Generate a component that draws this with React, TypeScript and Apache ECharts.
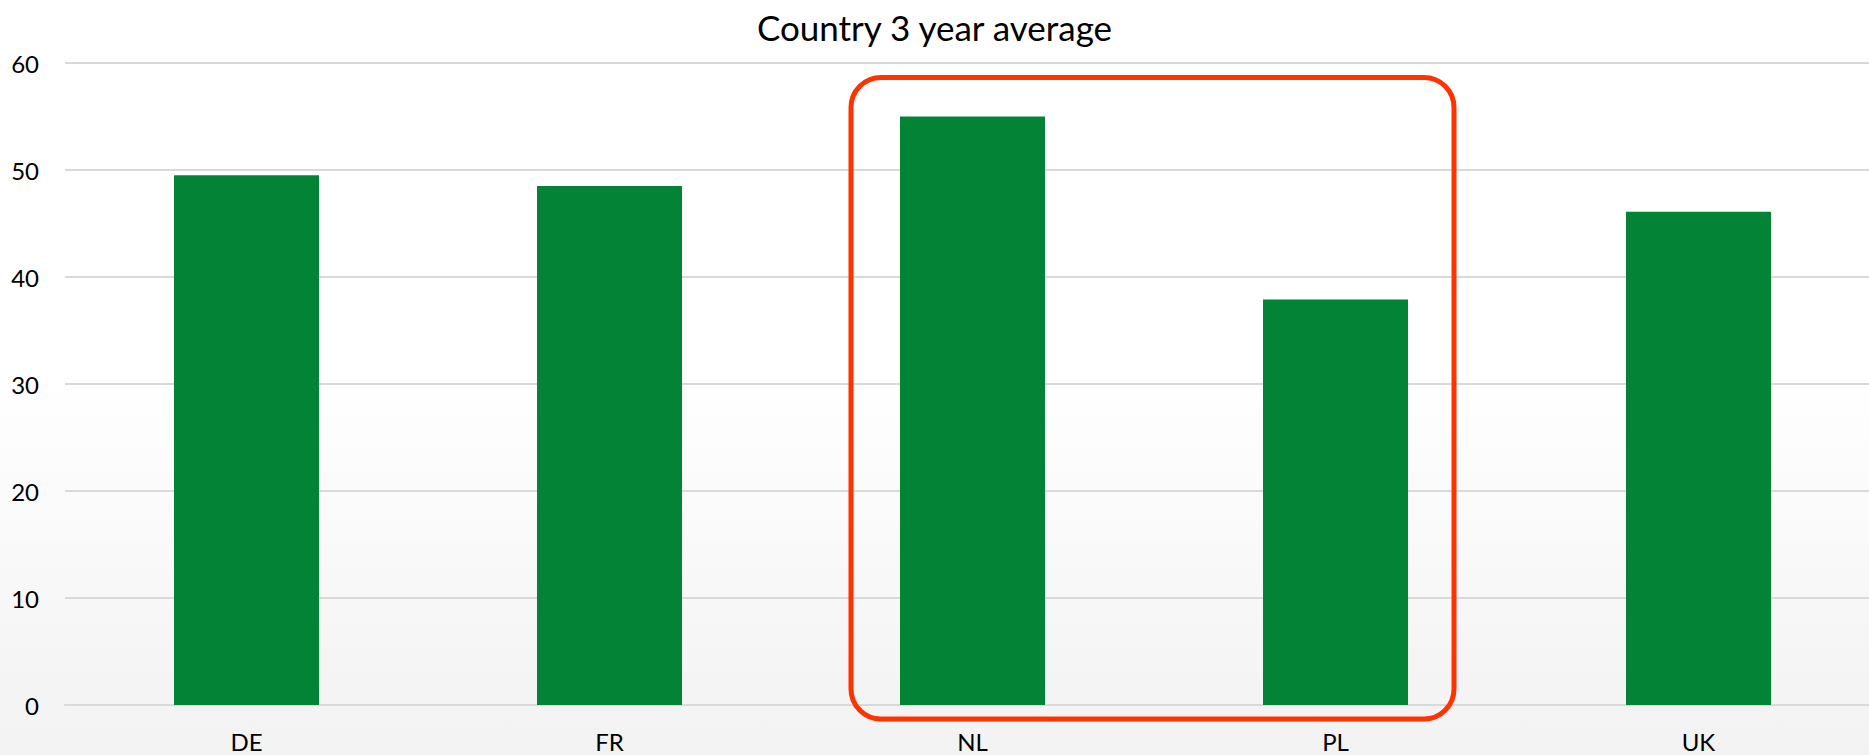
import React, { useEffect, useRef } from "react";
import * as echarts from "echarts";

const title = "Country 3 year average";
const categories = ["DE", "FR", "NL", "PL", "UK"];
const values = [49.5, 48.5, 55.0, 37.9, 46.1];
const yTicks = { min: 0, max: 60, interval: 10 };
const highlighted = ["NL", "PL"];

export default function App() {
  const ref = useRef<HTMLDivElement>(null);
  useEffect(() => {
    document.body.style.margin = "0";
    const el = ref.current!;
    const chart = echarts.init(el, null, { renderer: "svg" });
    const barWidth = 145;
    chart.setOption({
      animation: false,
      backgroundColor: {
        type: "linear",
        x: 0, y: 0, x2: 0, y2: 1,
        colorStops: [
          { offset: 0, color: "#FFFFFF" },
          { offset: 0.5, color: "#FFFFFF" },
          { offset: 1, color: "#F2F2F2" },
        ],
      },
      title: {
        text: title,
        left: "center",
        top: 4,
        textStyle: { fontFamily: "Lato", fontSize: 35, fontWeight: "normal", color: "#000" },
      },
      grid: {
        left: 65,
        top: 63,
        width: 1815,
        bottom: 50,
        containLabel: false,
        outerBoundsMode: "none",
      },
      xAxis: {
        type: "category",
        data: categories,
        axisLine: { show: true, lineStyle: { color: "#D9D9D9", width: 2 } },
        axisTick: { show: false },
        axisLabel: { fontFamily: "Lato", fontSize: 24, color: "#000", margin: 24 },
      },
      yAxis: {
        type: "value",
        min: yTicks.min,
        max: yTicks.max,
        interval: yTicks.interval,
        axisLine: { show: false },
        axisTick: { show: false },
        axisLabel: { fontFamily: "Lato", fontSize: 24, color: "#000", margin: 26 },
        splitLine: { lineStyle: { color: "#D9D9D9", width: 2 } },
      },
      series: [
        {
          type: "bar",
          data: values,
          barWidth,
          itemStyle: { color: "#038335" },
        },
      ],
    });
    const p1 = chart.convertToPixel({ gridIndex: 0 }, [highlighted[0], yTicks.max]) as number[];
    const p2 = chart.convertToPixel({ gridIndex: 0 }, [highlighted[1], yTicks.min]) as number[];
    const left = p1[0] - barWidth / 2 - 49;
    const right = p2[0] + barWidth / 2 + 46;
    const top = p1[1] + 14.5;
    const bottom = p2[1] + 14;
    chart.setOption({
      graphic: [
        {
          type: "rect",
          shape: { x: left, y: top, width: right - left, height: bottom - top, r: 30 },
          style: { fill: "none", stroke: "#FF3300", lineWidth: 5 },
          z: 100,
        },
      ],
    });
    return () => chart.dispose();
  }, []);
  return <div ref={ref} style={{ width: 1869, height: 755 }} />;
}
